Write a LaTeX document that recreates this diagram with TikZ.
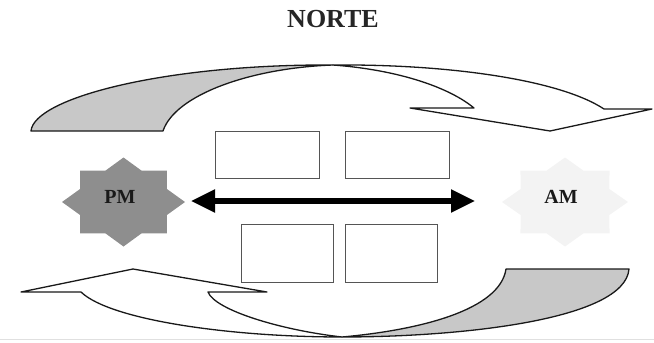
\documentclass[tikz,border=0pt]{standalone}
\usepackage{fontspec}
\setmainfont{Liberation Serif}
\usetikzlibrary{arrows.meta}
\definecolor{ribbongray}{HTML}{C8C8C8}
\definecolor{pmgray}{HTML}{8E8E8E}
\definecolor{amgray}{HTML}{F3F3F3}
\definecolor{boxline}{HTML}{555555}
\begin{document}
\begin{tikzpicture}[x=1pt,y=-1pt,
  ribbon/.style={draw=black!90, line width=1.3pt, line join=round},
  panel/.style={draw=boxline, line width=1.4pt, fill=white, inner sep=0pt, anchor=north west},
  lbl/.style={font=\bfseries\fontsize{20}{20}\selectfont, text=black!90},
  bigtip/.tip={Triangle[length=24pt,width=22pt]}]
\useasboundingbox (0,0) rectangle (654,343);
\draw[black!12, line width=1.2pt] (0,339.5) -- (654,339.5);

% top ribbon
\filldraw[ribbon, fill=white] (333,65) .. controls (450,64) and (560,80) .. (604,109) -- (652,109) -- (550,131) -- (410,108) -- (474,108) .. controls (450,88) and (400,70) .. cycle;
\filldraw[ribbon, fill=ribbongray] (31,131) -- (163,131) .. controls (175,95) and (250,68) .. (333,65) .. controls (165,64) and (34,98) .. cycle;

% bottom ribbon
\filldraw[ribbon, fill=white] (342,337) .. controls (230,337) and (110,320) .. (81,292) -- (21,292) -- (133,269) -- (267,292) -- (208,292) .. controls (215,310) and (280,330) .. cycle;
\filldraw[ribbon, fill=ribbongray] (629,269) -- (506,269) .. controls (500,310) and (420,330) .. (342,337) .. controls (460,337) and (625,320) .. cycle;

% boxes
\node[panel, minimum width=104pt, minimum height=47pt] (b1) at (215,131) {};
\node[panel, minimum width=104pt, minimum height=47pt] (b2) at (345,131) {};
\node[panel, minimum width=92pt, minimum height=58pt] (b3) at (241,224) {};
\node[panel, minimum width=92pt, minimum height=58pt] (b4) at (345,224) {};

% stars
\fill[pmgray, shift={(123.5,202)}] (0:61.5pt and 44.5pt) \foreach \k in {0,...,7} { -- (\k*45+22.5:47pt and 34pt) -- (\k*45+45:61.5pt and 44.5pt)} -- cycle;
\fill[amgray, shift={(565,202)}] (0:63pt and 44.5pt) \foreach \k in {0,...,7} { -- (\k*45+22.5:48pt and 34pt) -- (\k*45+45:63pt and 44.5pt)} -- cycle;
\node[lbl] (pm) at (120,197) {PM};
\node[lbl] (am) at (561,197) {AM};

\node[font=\bfseries\fontsize{26}{26}\selectfont, text=black!85] (norte) at (333,19) {NORTE};

% double arrow
\coordinate (aL) at (191,201);
\coordinate (aR) at (475,201);
\draw[line width=5.5pt, bigtip-bigtip] (aL) -- (aR);
\end{tikzpicture}
\end{document}
